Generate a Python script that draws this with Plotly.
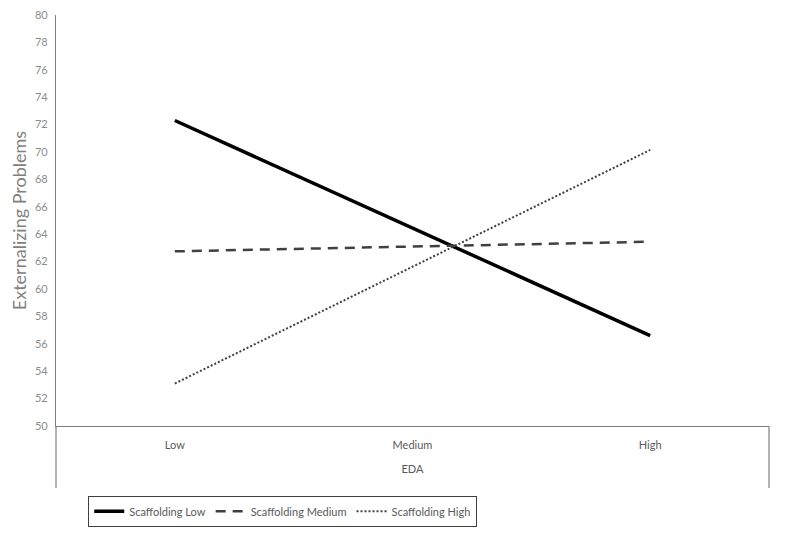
import plotly.graph_objects as go

# EDA levels on the x axis
eda_levels = ["Low", "Medium", "High"]

# externalizing problems per scaffolding group
scaff_low = [72.3, 64.45, 56.6]
scaff_medium = [62.75, 63.1, 63.45]
scaff_high = [53.1, 61.6, 70.15]

y_ticks = list(range(50, 81, 2))

font_name = "Lato, Open Sans, sans-serif"
axis_grey = "#7f7f7f"

fig = go.Figure()

fig.add_trace(go.Scatter(
    x=eda_levels, y=scaff_low, name="Scaffolding Low", mode="lines",
    line=dict(color="black", width=3.5)))
fig.add_trace(go.Scatter(
    x=eda_levels, y=scaff_medium, name="Scaffolding Medium", mode="lines",
    line=dict(color="#404040", width=2.5, dash="10px,7px")))
fig.add_trace(go.Scatter(
    x=eda_levels, y=scaff_high, name="Scaffolding High", mode="lines",
    line=dict(color="#404040", width=2, dash="2px,2px")))

# excel style frame: the axes run down past the category labels
fig.add_shape(type="line", xref="paper", yref="paper", x0=0, x1=0, y0=0, y1=-0.151,
              line=dict(color=axis_grey, width=1.2))
fig.add_shape(type="line", xref="paper", yref="paper", x0=1, x1=1, y0=0, y1=-0.151,
              line=dict(color=axis_grey, width=1.2))

# page body has an 8px margin, so the figure is drawn 8px smaller
fig.update_layout(
    width=792, height=534,
    margin=dict(l=48, r=31, t=7, b=116, autoexpand=False),
    plot_bgcolor="white", paper_bgcolor="white",
    font=dict(family=font_name, color="#595959"),
    showlegend=True,
    legend=dict(orientation="h", x=0.318, xanchor="center", y=-0.170, yanchor="top",
                bordercolor="#404040", borderwidth=1, font=dict(size=11, color="#595959"),
                itemwidth=30, tracegroupgap=0),
    xaxis=dict(
        type="category", range=[-0.5, 2.5], showgrid=False, zeroline=False,
        showline=True, linecolor=axis_grey, linewidth=1.2, automargin=False,
        ticks="", ticklabelstandoff=9, tickfont=dict(size=11, color="#595959"),
        title=dict(text="EDA", font=dict(size=11, color="#595959"), standoff=15)),
    yaxis=dict(
        range=[50, 80], tickvals=y_ticks, showgrid=False, zeroline=False,
        showline=True, linecolor=axis_grey, linewidth=1.2, automargin=False,
        ticks="outside", ticklen=5, tickcolor="rgba(0,0,0,0)",
        ticklabeloverflow="allow",
        tickfont=dict(size=11, color="#8c8c8c"),
        title=dict(text="Externalizing Problems", font=dict(size=18, color="#7f7f7f"),
                   standoff=3)),
)

fig.write_html("out.html")
